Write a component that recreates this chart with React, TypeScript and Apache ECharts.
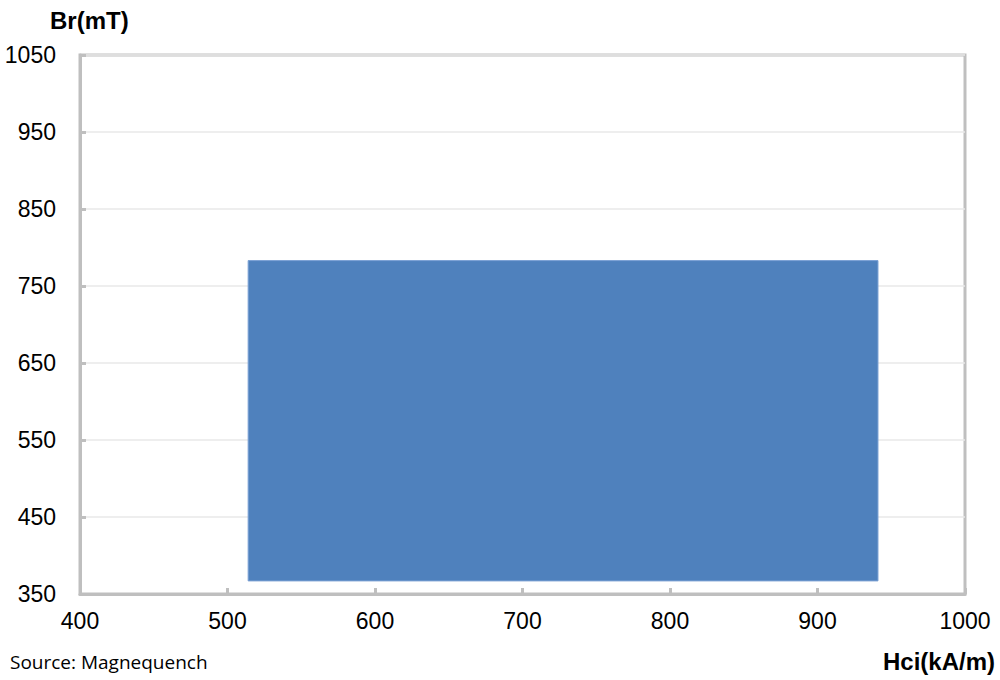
import React, { useEffect, useRef } from "react";
import * as echarts from "echarts";

const xTicks = [400, 500, 600, 700, 800, 900, 1000];
const yTicks = [350, 450, 550, 650, 750, 850, 950, 1050];
// [Hci min, Hci max, Br min, Br max]
const rangeBox = [514, 941, 367, 783];
const xTitle = "Hci(kA/m)";
const yTitle = "Br(mT)";
const source = "Source: Magnequench";

export default function App() {
  const ref = useRef<HTMLDivElement>(null);
  useEffect(() => {
    const chart = echarts.init(ref.current!, null, { renderer: "svg" });
    const axisColor = "#bfbfbf";
    const font = "Liberation Sans, Arial, sans-serif";
    chart.setOption({
      animation: false,
      backgroundColor: "#ffffff",
      grid: {
        left: 80,
        right: 35,
        top: 55,
        bottom: 86,
        show: true,
        borderColor: axisColor,
        borderWidth: 3,
        backgroundColor: "transparent",
      },
      xAxis: {
        type: "value",
        min: xTicks[0],
        max: xTicks[xTicks.length - 1],
        interval: 100,
        axisLine: { show: true, lineStyle: { color: axisColor, width: 3 } },
        axisTick: { show: true, inside: true, length: 6, lineStyle: { color: axisColor, width: 3 } },
        splitLine: { show: false },
        axisLabel: {
          color: "#000",
          fontSize: 23,
          fontFamily: font,
          margin: 15,
          formatter: (v: number) => String(v),
        },
      },
      yAxis: {
        type: "value",
        min: yTicks[0],
        max: yTicks[yTicks.length - 1],
        interval: 100,
        axisLine: { show: true, lineStyle: { color: axisColor, width: 3 } },
        axisTick: { show: true, inside: true, length: 6, lineStyle: { color: axisColor, width: 3 } },
        splitLine: { show: true, lineStyle: { color: "#e8e8e8", width: 1.5 } },
        axisLabel: {
          color: "#000",
          fontSize: 23,
          fontFamily: font,
          margin: 24,
          formatter: (v: number) => String(v),
        },
      },
      series: [
        {
          type: "custom",
          data: [rangeBox],
          encode: { x: [0, 1], y: [2, 3] },
          renderItem: (params: any, api: any) => {
            const p1 = api.coord([api.value(0), api.value(3)]);
            const p2 = api.coord([api.value(1), api.value(2)]);
            return {
              type: "rect",
              shape: { x: p1[0], y: p1[1], width: p2[0] - p1[0], height: p2[1] - p1[1] },
              style: { fill: "#4f81bd", stroke: "#7aa0d4", lineWidth: 1 },
            };
          },
        },
      ],
      graphic: [
        {
          type: "text",
          left: 50,
          top: 8,
          style: {
            text: yTitle,
            fontSize: 24,
            fontWeight: "bold",
            fontFamily: font,
            fill: "#000",
          },
        },
        {
          type: "text",
          right: 5,
          top: 649,
          style: {
            text: xTitle,
            fontSize: 24,
            fontWeight: "bold",
            fontFamily: font,
            fill: "#000",
          },
        },
        {
          type: "text",
          left: 10,
          top: 652,
          style: {
            text: source,
            fontSize: 19,
            fontFamily: "Open Sans, sans-serif",
            fill: "#000",
          },
        },
      ],
    });
    return () => chart.dispose();
  }, []);
  return (
    <div
      ref={ref}
      style={{ position: "fixed", left: 0, top: 0, width: 1000, height: 680, background: "#fff" }}
    />
  );
}
